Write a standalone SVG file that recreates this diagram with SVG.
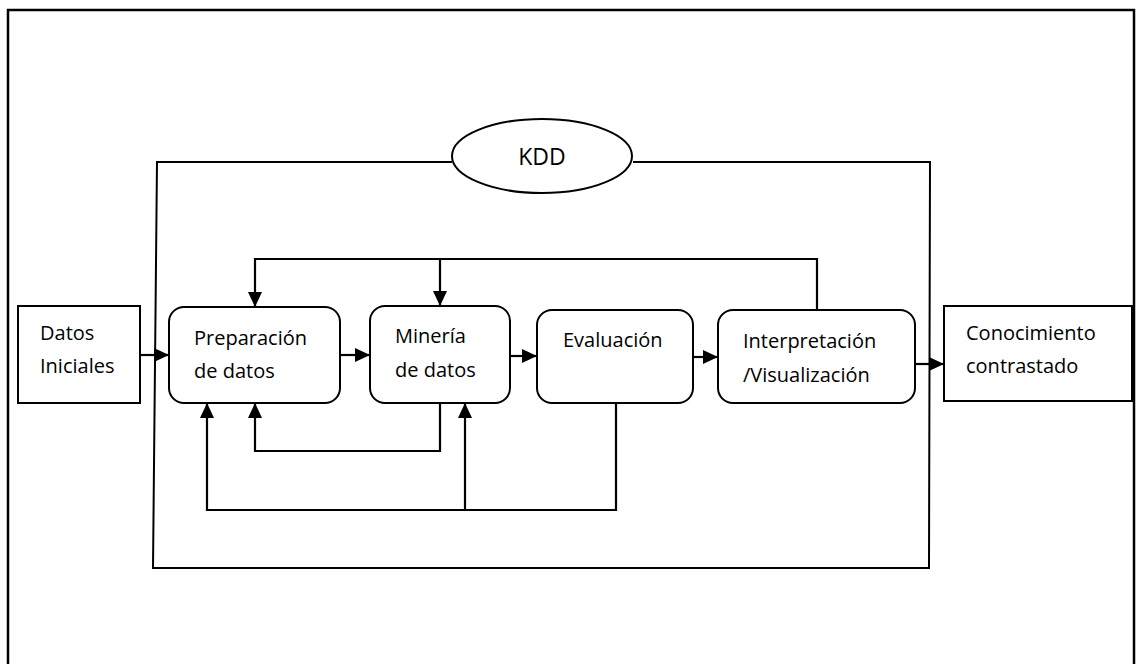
<svg xmlns="http://www.w3.org/2000/svg" width="1136" height="664" viewBox="0 0 1136 664">
<defs>
<style>
.box{fill:#fff;stroke:#000;stroke-width:2}
.ln{fill:none;stroke:#000;stroke-width:2.2}
.t{font-family:"Open Sans","Liberation Sans",sans-serif;font-size:20px;fill:#000}
</style>
<marker id="ah" markerUnits="userSpaceOnUse" markerWidth="16" markerHeight="16" refX="15" refY="7" orient="auto">
<path d="M0,0 L15,7 L0,14 z" fill="#000"/>
</marker>
</defs>
<rect width="1136" height="664" fill="#fff"/>
<path d="M8,666 V10 H1134 V666" fill="none" stroke="#000" stroke-width="2.5"/>
<g id="kdd-frame">
<path d="M452,162 H157 L153,568 H929 L930,162 H633" fill="none" stroke="#000" stroke-width="2"/>
<ellipse cx="542" cy="156" rx="90" ry="37" fill="#fff" stroke="#000" stroke-width="2"/>
<text class="t" x="542" y="165" text-anchor="middle" style="font-size:23px">KDD</text>
</g>
<g id="connectors">
<line class="ln" x1="140" y1="355" x2="169" y2="355" marker-end="url(#ah)"/>
<line class="ln" x1="340" y1="355" x2="370" y2="355" marker-end="url(#ah)"/>
<line class="ln" x1="510" y1="356" x2="537" y2="356" marker-end="url(#ah)"/>
<line class="ln" x1="693" y1="357" x2="718" y2="357" marker-end="url(#ah)"/>
<line class="ln" x1="915" y1="364" x2="944" y2="364" marker-end="url(#ah)"/>
<path class="ln" d="M817,310 V259 H255 V307" marker-end="url(#ah)"/>
<line class="ln" x1="440" y1="259" x2="440" y2="306" marker-end="url(#ah)"/>
<path class="ln" d="M440,403 V451 H255 V403" marker-end="url(#ah)"/>
<path class="ln" d="M616,403 V510 H207 V403" marker-end="url(#ah)"/>
<line class="ln" x1="465" y1="510" x2="465" y2="403" marker-end="url(#ah)"/>
</g>
<g id="datos-iniciales">
<rect class="box" x="18" y="306" width="122" height="97"/>
<text class="t" x="40" y="340">Datos</text>
<text class="t" x="40" y="373">Iniciales</text>
</g>
<g id="preparacion">
<rect class="box" x="169" y="307" width="171" height="96" rx="15"/>
<text class="t" x="194" y="345">Preparación</text>
<text class="t" x="194" y="378">de datos</text>
</g>
<g id="mineria">
<rect class="box" x="370" y="306" width="140" height="97" rx="15"/>
<text class="t" x="395" y="343">Minería</text>
<text class="t" x="395" y="377">de datos</text>
</g>
<g id="evaluacion">
<rect class="box" x="537" y="310" width="156" height="93" rx="15"/>
<text class="t" x="563" y="347">Evaluación</text>
</g>
<g id="interpretacion">
<rect class="box" x="718" y="310" width="197" height="93" rx="15"/>
<text class="t" x="743" y="348">Interpretación</text>
<text class="t" x="743" y="382">/Visualización</text>
</g>
<g id="conocimiento">
<rect class="box" x="944" y="306" width="188" height="95"/>
<text class="t" x="966" y="340">Conocimiento</text>
<text class="t" x="966" y="373">contrastado</text>
</g>
</svg>
